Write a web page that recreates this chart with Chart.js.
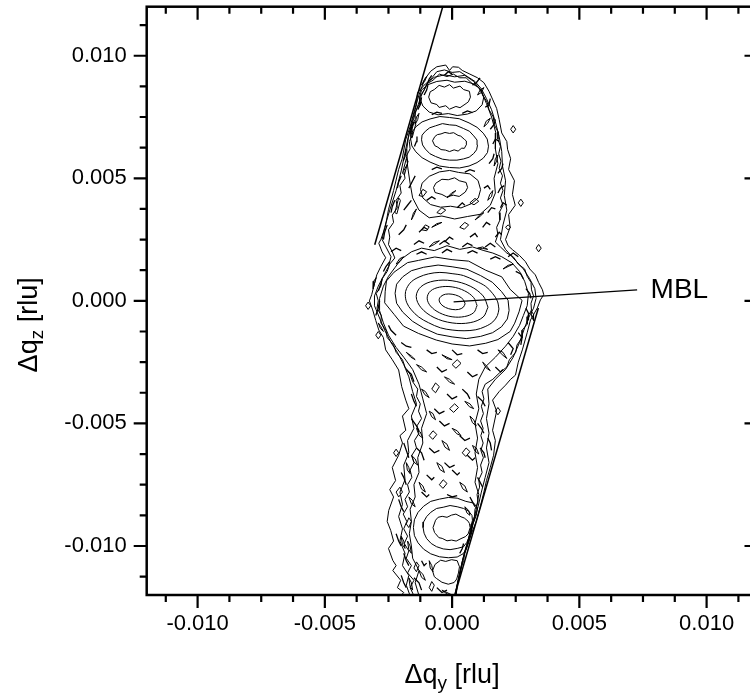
<!doctype html>
<html>
<head>
<meta charset="utf-8">
<title>MBL reciprocal space map</title>
<script src="https://cdn.jsdelivr.net/npm/chart.js@4.4.0/dist/chart.umd.min.js"></script>
<style>
html, body { margin: 0; padding: 0; overflow: hidden; background: #fff; }
</style>
</head>
<body>
<canvas id="map" width="770" height="698"></canvas>
<script>
// all contour points in units of 1e-4 rlu, as [dqy, dqz]
var UNIT = 1e-4;
var FONT = "'Liberation Sans', Arial, sans-serif";

var xTickLabels = [-0.010, -0.005, 0.000, 0.005, 0.010];
var yTickLabels = [-0.010, -0.005, 0.000, 0.005, 0.010];

// central (MBL) peak, inner to outer
var midR1 = [[5.1,-1.2],[4.4,0.5],[2.6,1.9],[0,2.7],[-2.6,2.7],[-4.4,1.8],[-5.1,0.4],[-4.4,-1.3],[-2.6,-2.7],[0,-3.5],[2.6,-3.5],[4.4,-2.6]];
var midR2 = [[9.8,-1.9],[8.5,1.3],[4.9,4.1],[0,5.7],[-4.9,5.6],[-8.5,4.0],[-9.8,1.1],[-8.5,-2.1],[-4.9,-4.9],[0,-6.5],[4.9,-6.4],[8.5,-4.8]];
var midR3 = [[14.1,-2.6],[12.2,2.0],[7.1,6.0],[0,8.2],[-7.1,8.1],[-12.2,5.8],[-14.1,1.8],[-12.2,-2.8],[-7.1,-6.8],[0,-9.0],[7.1,-8.9],[12.2,-6.6]];
var midR4 = [[18.4,-3.3],[17.8,-0.1],[16.0,2.9],[13.2,5.9],[9.3,8.1],[4.5,10.3],[0,11.1],[-4.8,11.6],[-9.3,11.0],[-13.0,9.7],[-16.0,7.8],[-17.9,5.0],[-18.4,2.5],[-17.8,-0.8],[-16.0,-3.7],[-13.1,-6.6],[-9.3,-8.9],[-4.6,-11.0],[0,-11.9],[4.7,-12.2],[9.3,-11.8],[13.0,-10.5],[16.0,-8.6],[17.8,-6.0]];
var midR5 = [[22.4,-3.9],[22.0,0.2],[19.4,3.8],[15.8,7.6],[11.2,10.3],[5.8,12.9],[0,13.9],[-5.5,14.6],[-11.2,13.7],[-16.0,12.3],[-19.4,9.8],[-21.8,6.8],[-22.4,3.1],[-21.8,-1.0],[-19.4,-4.6],[-15.6,-8.3],[-11.2,-11.1],[-5.8,-13.6],[0,-14.7],[5.6,-15.4],[11.2,-14.5],[15.9,-13.0],[19.4,-10.6],[21.7,-7.4]];
var midR6 = [[26.3,-4.5],[27.5,0.2],[22.8,4.7],[19.5,9.8],[13.2,12.5],[6.5,16.2],[0,16.8],[-6.8,17.9],[-13.2,16.5],[-17.5,15.6],[-22.8,11.7],[-25.8,8.1],[-26.3,3.7],[-26.5,-0.8],[-22.8,-5.5],[-19.1,-10.3],[-13.2,-13.3],[-6.2,-16.0],[0,-17.6],[6.9,-18.4],[13.2,-17.3],[18.0,-15.8],[22.8,-12.5],[24.6,-9.1]];

// upper peak group
var topCore = [[5.7,63.9],[5.6,65.2],[4.8,65.9],[3.4,67.2],[2.35,67.5],[0.6,68.6],[-1,68.3],[-2.8,68.7],[-4.35,68.1],[-5.8,67.8],[-6.8,67.0],[-7.7,65.3],[-6.8,63.3],[-5.6,62.7],[-4.35,61.7],[-2.6,61.5],[-1,60.9],[0.8,61.6],[2.35,61.1],[3.8,62.3],[4.8,62.2]];
var topRing2 = [[10,63.5],[9.8,65.6],[8.5,67.3],[6.8,69.2],[4.5,70.3],[1.5,71.6],[-1,71.8],[-3.8,72.3],[-6.5,71.4],[-8.8,70.6],[-10.5,69.2],[-11.8,67.6],[-12,65.7],[-11.6,63.6],[-10.5,61.9],[-8.7,60.0],[-6.5,58.9],[-3.8,57.8],[-1,57.4],[1.9,57.4],[4.5,57.9],[6.7,58.6],[8.5,60.1],[9.6,61.6]];
var topRing3 = [[14.3,63.1],[13.8,66.0],[12.25,68.4],[9.8,70.8],[6.65,72.6],[2.8,74.3],[-1,74.8],[-4.8,75.2],[-8.65,74.2],[-11.8,73.0],[-14.25,71.0],[-15.9,68.6],[-16.3,66.1],[-15.8,63.2],[-14.25,60.8],[-11.8,58.4],[-8.65,56.6],[-4.9,55.0],[-1,54.4],[2.9,54.2],[6.65,55.0],[9.8,56.4],[12.25,58.2],[13.9,60.5]];
var upperRing = [[7.2,83.1],[6.8,85.5],[4.5,86.2],[3.1,87.6],[0.5,86.8],[-1,88.2],[-3,87.2],[-5.1,87.9],[-7,86.2],[-8.6,85.3],[-9.2,83.1],[-8.3,80.8],[-6,80.1],[-5.1,78.9],[-2.5,79.6],[-1,78.2],[1.5,79.3],[3.1,78.8],[5.5,80.5],[6.4,81.2]];
var upperRing2 = [[12.4,82.9],[11.5,86],[9,88.3],[5,89.6],[1,89.2],[-2,90.0],[-6,89.5],[-9.5,88.2],[-12,86],[-12.8,82.9],[-11.5,79.5],[-9,77],[-5.5,75.9],[-1.5,76.4],[2,75.6],[6,76.2],[9.5,77.5],[11.8,80]];
var lowerRing = [[6.1,46.2],[5.5,48.3],[2.8,49.0],[1,50.2],[-1.5,49.4],[-4.0,49.6],[-6.4,48.0],[-7.3,46.2],[-6.7,44.2],[-4.0,43.4],[-2.2,42.4],[0.5,43.1],[2.8,42.6],[5.2,44.4]];
var lowerRing2 = [[11.2,45.4],[10.2,49.1],[7,51.8],[2.5,52.4],[-1,53.2],[-5,52.6],[-9,50.8],[-11.8,48],[-12.4,45.4],[-11.5,42],[-8.5,39.3],[-4.5,38.2],[-0.6,38.6],[3.5,37.9],[7.5,39.6],[10.3,42]];
var topGroup = [[-17.8,62],[-17,68],[-15.5,74],[-14,80],[-13.6,85],[-10.5,88.5],[-7,91.2],[-3,92.2],[1,91.4],[5,92],[8.5,89.5],[11.5,85.5],[13.5,80.5],[15.5,75],[17.2,68.5],[17,62],[18,56],[16.5,50],[17,44],[15,39],[11,35.3],[6,34.4],[1,33.4],[-4,34.6],[-9,33.9],[-13,37],[-15.5,42],[-16.5,48],[-17.5,55]];

// lower peak group
var botCore = [[7.1,-92.5],[6.8,-90.8],[6.3,-89.9],[4.8,-88.6],[3.5,-88.1],[1.5,-87.0],[-0.2,-87.4],[-2.0,-88.3],[-3.9,-87.9],[-5.5,-88.3],[-6.5,-89.5],[-7.5,-92.5],[-6.9,-94.5],[-6.5,-95.0],[-5.2,-96.6],[-3.9,-96.9],[-2.0,-97.9],[-0.2,-97.6],[1.6,-98.0],[3.5,-97.0],[5.2,-96.2],[6.3,-95.1]];
var botRing2 = [[7.3,-92.5],[8.0,-89.5],[7.8,-87.5],[6.5,-85.8],[4.5,-84.7],[2,-84.0],[-0.8,-83.5],[-3.5,-84.2],[-6.1,-84.7],[-8.3,-86.2],[-10.0,-88.0],[-11.2,-90.2],[-11.4,-92.5],[-11.0,-94.8],[-10.0,-97.0],[-8.2,-99.0],[-6.1,-100.3],[-3.5,-101.2],[-0.8,-101.5],[2,-101.0],[4.5,-100.3],[5.8,-98.5],[6.6,-96.5],[6.9,-94.5]];
var botRing3 = [[8.2,-91],[9.5,-87.5],[10.0,-84.5],[8.5,-82.5],[5.4,-81.8],[2,-80.5],[-1.5,-80.2],[-5,-80.9],[-8.4,-81.8],[-11.2,-83.8],[-13.4,-86.3],[-14.8,-89.3],[-15.2,-92.5],[-14.8,-95.8],[-13.4,-98.7],[-11.2,-101.3],[-8.4,-103.2],[-5,-104.4],[-1.5,-104.8],[2,-104.5],[4.3,-103.2],[5.4,-101.5],[6.5,-98.7],[7.4,-95.5]];
var botLow = [[2.9,-108.5],[2.0,-106],[-0.2,-105.6],[-2.5,-106.3],[-4.5,-105.8],[-6.7,-107.5],[-7.7,-110.1],[-7.0,-112.5],[-6.2,-113.2],[-4.0,-114.8],[-1.5,-115.6],[0.8,-114.9],[1.8,-113.5],[2.5,-111]];

// noisy outer contours of the whole column (open where they leave the frame)
var outline1 = [[-20.2,-120.3],[-19.0,-119],[-21.5,-117],[-20.2,-114],[-23.3,-110],[-22.0,-108],[-23.3,-105.9],[-25.0,-101],[-23.0,-98],[-24.1,-93.7],[-25.5,-90],[-24.9,-85.5],[-23.0,-80],[-24.5,-77],[-22.2,-73.3],[-23.5,-68],[-21.0,-63.0],[-19.5,-58],[-20.5,-55],[-18.2,-52.8],[-19.5,-47],[-17.0,-44],[-18.2,-40.5],[-19.8,-35],[-21.0,-28.2],[-23.5,-24],[-26.1,-20.0],[-27.0,-15],[-28.8,-11.9],[-30.0,-8],[-31.2,-3.7],[-32.5,0],[-31.6,2.5],[-30.5,7],[-29.6,10.6],[-28.0,14],[-26.1,17.6],[-27.5,20],[-28.8,23.5],[-28.0,25.0],[-26.3,30],[-25.0,37.2],[-23.0,45],[-21.0,53.6],[-19.6,58],[-18.2,65.9],[-16.5,71],[-14.7,78.1],[-13.0,84],[-10.8,90.4],[-8.4,93.7],[-6,95.5],[-2.5,96.2],[-1,94],[0.2,95.5],[2.5,95.3],[4,94],[7,92.5],[10,91],[12.5,89],[14.5,85.5],[16,82],[17.5,78.5],[18.5,74],[19.5,68.5],[21.5,65],[21.8,61.8],[23,58],[22.2,53.6],[24.5,49],[23.7,43.4],[24.8,39],[22.2,35.2],[22.8,30],[21.0,25.0],[22.0,22.5],[23.7,20.9],[26.5,18.5],[28.8,16.0],[30.5,13],[32.7,10.6],[34.0,7.5],[35.5,4.5],[36.0,2.5],[34.7,0.4],[33.5,-2.9],[30.8,-7.8],[29.5,-13],[27.6,-20.0],[26.0,-25],[24.9,-30.3],[23.0,-32],[21.0,-34.4],[18.5,-37],[15.9,-40.5],[17.5,-45],[15.9,-52.8],[17.0,-57],[16.3,-63.0],[15.0,-68],[13.5,-73.3],[12.5,-78],[11.2,-83.5],[9.5,-90],[7.3,-95.7],[5.5,-101],[4.1,-105.9],[3.0,-112],[1.4,-118.2],[1.0,-120.3]];
var outline2 = [[-16.5,-120.3],[-18,-116],[-17,-112],[-19.5,-108],[-18.5,-103],[-20.5,-98],[-19.5,-93],[-21,-88],[-19.5,-83],[-20.5,-78],[-18.5,-73],[-19,-67],[-17,-62],[-17.5,-57],[-15,-52],[-16,-47],[-14,-42],[-15.5,-37],[-17,-31],[-19,-26],[-21.5,-21],[-24,-17],[-26.5,-12],[-28.5,-7],[-30.5,-2],[-30.5,2],[-29,6],[-27,10],[-25,14],[-24,18],[-26,22],[-27.5,25],[-26.5,30],[-24.5,37],[-22,45],[-20,53],[-18.6,60],[-17.4,66],[-15.8,72],[-14,78],[-12,84],[-9.5,89],[-6,93.5],[-3,94.2],[0,93.2],[3,93.5],[6,91.5],[9,89.5],[11.5,86.5],[13.5,82.5],[15.5,78],[17,73],[18.5,67],[19.5,61],[19.8,55],[21,49],[20.5,43],[21.5,37],[20,31],[19,25],[21,21],[24,17.5],[28,13],[30.5,9],[32.5,5],[33,1],[32,-3],[30,-7],[28.5,-11],[26.5,-17],[24,-23],[21,-28],[17,-32],[14,-36],[14.5,-42],[13.5,-48],[14.5,-54],[13.5,-60],[14.5,-66],[13,-72],[11.5,-78],[10.2,-84],[8.5,-90],[6.8,-96],[5.0,-102],[3.6,-108],[2.3,-114],[1.2,-120.3]];
var outline3 = [[-13,-120.3],[-14.5,-115],[-13,-110],[-15.5,-105],[-16,-100],[-16.8,-95],[-16,-90],[-16.5,-85],[-14.5,-80],[-15,-75],[-13,-70],[-13.5,-64],[-11.5,-58],[-12,-52],[-10,-46],[-11.5,-40],[-13,-34],[-15.5,-28],[-19,-23],[-22,-19],[-25,-14],[-27,-9],[-28.5,-4],[-28.5,1],[-27,6],[-25,10],[-22.5,13.5],[-20,17],[-16,20],[-12,21.5],[-7,20.5],[-2,22.5],[3,21],[8,22],[12.5,20.5],[16,19.5],[19.5,18],[23.5,15.5],[26.5,12],[28.5,8],[30,3],[29.5,-2],[28,-6],[26.5,-10],[24,-14.5],[21,-18.5],[17,-23],[13,-27],[10.5,-32],[9.5,-38],[10.5,-44],[9,-50],[10,-56],[9,-62],[10,-68],[9,-74],[10.5,-79],[9.5,-85],[7.8,-92],[6.2,-98],[4.6,-104],[3.2,-110],[2.0,-116],[1.6,-120.3]];
var outline4 = [[-15,-120.3],[-16.5,-117],[-15,-114],[-17.5,-111],[-16,-108],[-18,-105],[-17,-102],[-18.8,-99],[-17.5,-96],[-19,-93],[-17.8,-90],[-19.2,-87],[-17.5,-84],[-18.5,-81],[-16.8,-78],[-17.5,-75],[-15.8,-72],[-16.5,-69],[-15,-66],[-15.8,-63],[-14,-60],[-14.8,-57],[-13,-54],[-13.8,-51],[-12,-48],[-13.2,-45],[-12.5,-42],[-14,-39],[-13.5,-36],[-15.5,-33],[-16.5,-30],[-18.5,-27],[-19.5,-24],[-22,-21],[-23,-18],[-25.5,-15],[-26,-12],[-28,-9],[-27.8,-6],[-29.5,-3],[-29,0],[-29.8,3],[-28,6],[-27.5,9],[-25.5,12],[-24.5,15],[-22.5,17.5],[-23.5,20],[-25,23],[-24.5,26],[-25,29],[-23,32],[-23.5,35],[-21.5,38],[-22,41],[-20,44],[-20.5,47],[-18.5,50],[-19,53],[-17.5,56],[-18,59],[-16.5,62],[-16.8,65],[-15.5,68],[-16,71],[-14.5,74],[-14.5,77],[-13,80],[-12.8,83],[-11,86],[-10,88.5],[-7.5,90],[-5,92.5],[-2,91.5],[0.5,92.5],[3,91],[5.5,91],[8,88.5],[10.5,87],[12,84],[13.8,81],[14.5,78],[16.2,75],[16.5,72],[18,69],[18,66],[19,63],[18.3,60],[19.2,57],[18.5,54],[19.8,51],[19,48],[20,45],[19,42],[20,39],[18.5,36],[18.8,33],[17.5,30],[18,27],[17,24],[19,22],[21.5,19.5],[24,18],[26,15],[28.5,13],[29.5,10],[31,7.5],[31.2,4.5],[32,2],[31,-1],[31.2,-4],[29.5,-6.5],[29.5,-9.5],[27.5,-12],[27.5,-15],[25.5,-18],[25,-21],[22.5,-24],[21.5,-27],[18.5,-29.5],[16,-32],[13,-34],[11.8,-37],[12.5,-40],[11.5,-43],[12.3,-46],[11.2,-49],[12.2,-52],[11.3,-55],[12.2,-58],[11.3,-61],[12.3,-64],[11.2,-67],[11.8,-70],[10.5,-73],[10.8,-76],[9.8,-79],[10.2,-82],[9,-85],[8.8,-88],[7.8,-91],[7.5,-94],[6.5,-97],[6,-100],[5,-103],[4.5,-106],[3.6,-109],[3,-112],[2.2,-115],[1.8,-118],[1.4,-120.3]];

// short open streaks of contour: [x1, y1, xk, yk, x2, y2]
var streaks = [
  [-10,88,-9,90.5,-8,92],[8,88,9.5,89,11,91],[-11,84,-10,86,-9.5,88],[-13.5,78,-12.5,80,-12,83],
  [13,79,14.5,80,15,82.5],[-3,92,-1.5,93.5,0,92.5],[-16.5,68,-16,70.5,-15,73],[15,70,16.5,72,17,74],
  [-14.8,63,-14,65,-13.8,67],[16,64,17,66,18.5,65],[-19.2,57,-18.5,59,-18,62],[14.5,56,16,58,16.5,60],
  [18,52,19.5,54,20,56],[-21.5,46,-21,48.5,-20,51],[-17,46,-15.5,49,-14.5,51],[12.5,46,14,47,15,45.5],
  [18,44,19,46,20.5,47],[-24,36,-23.5,38.5,-22.5,41],[-19,37,-17.5,39,-16,41],[-10,41,-8,42.5,-6.5,41.5],
  [2,38,4,40,5,39],[14,36,15.5,38,17,37.5],[19,38,20,40,21.5,39],[-27,25,-26.5,28,-25.5,31],
  [-21,27,-19,29,-18,31],[-13,28,-11,30,-9.5,29],[-3,24,-1,26,0.5,25],[7,26,9,27.5,10,26],
  [12,30,13.5,32,15,31],[17,26,18.5,28,19.5,27],[-24,20,-22,21.5,-20,20.5],[-15,23,-13,24.5,-11,23.5],
  [-5,23,-3,24.5,-1,23],[4,22,6,23.5,8,22.5],[13,22,15,23.5,17,22],[22,18,24,19.5,26,18],
  [-8,76,-6,77,-4,76.5],[4,76.5,6,77.5,8,76.8],[-8,53.5,-6,54.5,-4,53.8],[5,52.5,7,53.5,9,52.8],
  [-30,-6,-29,-3,-28.5,0],[-29,4,-28,7,-27.5,9],[-27,12,-26,14,-24.5,16],[-25,-10,-24,-12,-22,-14],
  [-20,-17,-18,-18.5,-16,-19],[-14,19,-12,20,-10,19],[-4,19.5,-2,21,0,20],[6,19.5,8,20.5,10,19.5],
  [15,17,17,18,19,17],[25,12,27,11,28,9],[29,5,30.5,3,31,1],[29,-3,30,-5,30,-8],
  [26,-13,27.5,-15,27,-18],[22,-17,24,-19.5,23,-22],[-10,-20,-8,-21.5,-6,-21],[0,-20,2,-22,4,-21.5],
  [10,-20,12,-21.5,14,-21],[-18,-28,-16,-30,-15,-33],[-6,-27,-4,-29,-2,-28],[6,-29,8,-31,10,-30],
  [17,-27,19,-29,20,-28],[-16,-38,-15,-41,-14,-43],[-2,-38,0,-40,2,-39],[10,-39,12,-41,13,-43],
  [-16,-48,-14,-51,-13,-53],[-5,-49,-3,-51,-1,-50],[10,-50,11.5,-52,12.5,-54],[14,-56,15,-58,15.5,-61],
  [-19,-58,-18,-61,-17,-64],[-9,-60,-7,-62,-5,-61],[6,-63,8,-65,9,-64],[11,-60,12.5,-62,13,-64],
  [-20,-70,-19,-72,-18,-75],[-10,-71,-8,-73,-7,-72],[0,-69,2,-71,3,-70],[10,-72,11,-74,12,-76],
  [-21,-81,-20,-84,-19,-86],[-12,-78,-10,-80,-9,-79],[-2,-79,0,-80,2,-79.5],[-22,-95,-21,-98,-20,-100],
  [-19,-103,-18,-106,-17,-108],[-20,-112,-19,-115,-18,-117],[-15,-113,-13,-115,-12,-118],[-6,-117,-4,-119,-2,-118],
  [-12,-106,-11,-108,-10,-107],[7,-80,8,-82,9,-84],[3,-103,4,-101,4.5,-99],[-7,-44,-5,-46,-3,-45],
  [3,-55,5,-57,7,-56],[-3,-66,-1,-68,1,-67],[-14,-60,-12,-62,-11,-65],[4,-36,6,-38,7,-40]
];

// thin closed streak loops: [x1, y1, xa, ya, x2, y2, xb, yb]
var streakLoops = [
  [-14,-26,-12,-27,-10,-29,-12,-28.2],[-3,-31,-1,-32,1,-34,-1,-33.2],[12,-25,13.5,-26.5,15,-28.5,13.4,-27.4],
  [-12,-36,-10.5,-37,-9,-39.5,-10.7,-38.3],[5,-41,7,-42,8.5,-44,6.8,-43.2],[-9,-45,-7.5,-46,-6.5,-48.5,-8,-47.3],
  [0,-52,2,-53,3.5,-55,1.8,-54.2],[7,-47,8.5,-48.5,9.5,-51,8,-49.7],[-14,-52,-12.5,-53.5,-11.5,-56,-13,-54.8],
  [-4,-57,-2,-58.5,-1,-61,-2.8,-59.7],[-16,-63,-14.5,-64.5,-13.5,-67,-15,-65.8],[8,-59,9.5,-60,10.5,-62.5,9,-61.3],
  [-6,-66,-4,-67.5,-3,-70,-4.8,-68.8],[3,-74,5,-75.5,6,-78,4.2,-76.7],[-13,-74,-11.5,-75.5,-10.5,-78,-12,-76.8],
  [-18,-66,-17,-68,-16.5,-70.5,-17.6,-69],[-17,-80,-15.5,-81.5,-14.5,-84,-16,-82.8],[5,-84,6.5,-85.5,7,-87.5,5.8,-86.5],
  [-20,-96,-19,-98,-18.5,-101,-19.5,-99.5],[-17.5,-98,-16.5,-100,-16,-103,-17,-101.5],[-13,-110,-11.5,-111.5,-10.5,-114,-12,-112.8],
  [-17,-113,-16,-115,-15.5,-118,-16.5,-116.5],[-4,-118,-2,-119,0,-120,-2,-119.6],[-9,-106,-8,-108,-7.5,-110.5,-8.6,-109],
  [-31,5,-30.5,7,-29.8,9.5,-30.8,8],[-29,-9,-28,-10.5,-27,-12.5,-28.2,-11.2],[-22,15,-20.5,16,-19,18,-20.6,17.2],
  [-9,22,-7,23,-5,24.5,-7.2,23.8],[10,21.5,12,22,14,21,12,21.4],[20,13,22,14.5,24,15,22,14],
  [31,-4,32,-5.5,32,-8,31.2,-6.2],[18,-20,20,-21,21.5,-23.5,19.7,-22],[-4,-22,-2,-23,0,-24,-2,-23.6],
  [-18,-21,-16,-22.5,-14.5,-24,-16.2,-23],[-8,30,-6,31.5,-4,32,-6,31],[9,33,11,34.5,12.5,36,10.8,35],
  [-16,33,-15,35,-14,37.5,-15.2,35.8],[-2,42,0,43.5,1.5,45,-0.2,44],[14,41,15.5,42.5,16,45,14.8,43.4],
  [-14.5,72,-13.5,74,-13,76.5,-14,75],[12.5,71,14,72.5,15,74.5,13.4,73.3],[-12,88,-10.8,89.5,-10,91.5,-11,90],
  [10,84,11.5,85,12.5,87,11,86],[16.5,55,17.5,57,18,59.5,17,58]
];

// small closed blobs scattered in and beside the column
var noiseLoops = [
  [[-12,29],[-10.5,31],[-9,30.2],[-10,28.6]],
  [[3,30],[5,32],[6.5,31],[4.8,29.2]],
  [[-6,36],[-4,38],[-2.5,37],[-4.4,35.4]],
  [[-13,43],[-11.5,45.5],[-10,44.5],[-11.5,42.5]],
  [[7,40],[9,41.8],[10.5,40.6],[8.6,39.2]],
  [[23,70],[24,71.5],[25,70],[24,68.5]],
  [[26,40],[27,41.5],[28,40],[27,38.5]],
  [[21,30],[22,31],[23,30],[22,29]],
  [[-22.5,36],[-21,42],[-20.3,41],[-21.7,35.5]],
  [[-19.5,52],[-18,58],[-17.3,57],[-18.7,51.5]],
  [[-16.5,67],[-15,73],[-14.3,72],[-15.7,66.5]],
  [[-8,-36],[-6.5,-33.5],[-5,-35],[-6.5,-37.5]],
  [[0,-26],[2,-24],[3.5,-25.5],[1.5,-27.5]],
  [[-1,-44],[1,-42],[2.5,-43.5],[0.6,-45.5]],
  [[-9,-55],[-7.5,-53],[-6,-54.5],[-7.6,-56.5]],
  [[4,-62],[5.5,-60],[7,-61.5],[5.4,-63.5]],
  [[-5,-75],[-3.5,-73],[-2,-74.5],[-3.6,-76.5]],
  [[-18,-91],[-17,-88.5],[-16,-90],[-17,-92.5]],
  [[-22,-78],[-20.5,-76],[-19.5,-78],[-21,-80]],
  [[-23,-62],[-22,-60.5],[-21,-62],[-22,-63.5]],
  [[17,-45],[18,-43.5],[19,-45],[18,-46.5]],
  [[-34,-2],[-33,-0.5],[-32,-2],[-33,-3.5]],
  [[-30,-14],[-29,-12.5],[-28,-14],[-29,-15.5]],
  [[33,21.5],[34,23],[35,21.5],[34,20]],
  [[-15,-109],[-14,-106.5],[-13,-108],[-14,-110.5]],
  [[-9,-117],[-8,-114.5],[-7,-116],[-8,-118.5]]
];

// detector-edge lines and MBL pointer
var leftEdge = [[-30.4,22.9],[-3.6,120.3]];
var rightEdge = [[33.9,-2.9],[1.0,-120.3]];
var mblPointer = [[0.6,-0.4],[72.7,4.5]];
var mblLabel = { text: 'MBL', x: 0.0078, y: 0.00012 };

function toXY(points, closed) {
  var pts = points.map(function(p) { return { x: p[0] * UNIT, y: p[1] * UNIT }; });
  if (closed) pts.push({ x: pts[0].x, y: pts[0].y });
  return pts;
}

function contour(points, closed, smooth, width) {
  return {
    data: toXY(points, closed),
    showLine: true,
    pointRadius: 0,
    borderColor: '#000',
    borderWidth: width || 1,
    tension: smooth ? 0.35 : 0,
    fill: false
  };
}

var datasets = [
  contour(midR1, true, true), contour(midR2, true, true), contour(midR3, true, true),
  contour(midR4, true, true), contour(midR5, true, false), contour(midR6, true, false),
  contour(topCore, true, false), contour(topRing2, true, false), contour(topRing3, true, false),
  contour(upperRing, true, false), contour(upperRing2, true, false),
  contour(lowerRing, true, false), contour(lowerRing2, true, false), contour(topGroup, true, false),
  contour(botCore, true, false), contour(botRing2, true, false), contour(botRing3, true, false),
  contour(botLow, true, false),
  contour(outline1, false, false), contour(outline2, false, false),
  contour(outline3, false, false), contour(outline4, false, false),
  contour(leftEdge, false, false, 1.5), contour(rightEdge, false, false, 1.5),
  contour(mblPointer, false, false, 1.2)
];
noiseLoops.forEach(function(l) { datasets.push(contour(l, true, false)); });
streaks.forEach(function(s) {
  datasets.push(contour([[s[0], s[1]], [s[2], s[3]], [s[4], s[5]]], false, false, 1.3));
});
streakLoops.forEach(function(s) {
  datasets.push(contour([[s[0], s[1]], [s[2], s[3]], [s[4], s[5]], [s[6], s[7]]], true, false));
});

var tickMarks = [];
for (var i = -9; i <= 9; i++) tickMarks.push({ v: i * 0.00125, major: i % 4 === 0 });

function drawSubText(ctx, main, sub, rest, cx, cy, size) {
  var subSize = Math.round(size * 0.72);
  ctx.font = size + 'px ' + FONT;
  var w1 = ctx.measureText(main).width, w3 = ctx.measureText(rest).width;
  ctx.font = subSize + 'px ' + FONT;
  var w2 = ctx.measureText(sub).width;
  var x = cx - (w1 + w2 + w3) / 2;
  ctx.textAlign = 'left';
  ctx.textBaseline = 'alphabetic';
  ctx.font = size + 'px ' + FONT;
  ctx.fillText(main, x, cy);
  ctx.font = subSize + 'px ' + FONT;
  ctx.fillText(sub, x + w1, cy + size * 0.24);
  ctx.font = size + 'px ' + FONT;
  ctx.fillText(rest, x + w1 + w2, cy);
}

var framePlugin = {
  id: 'frame',
  afterDatasetsDraw: function(chart) {
    var ctx = chart.ctx, a = chart.chartArea, xs = chart.scales.x, ys = chart.scales.y;
    ctx.save();
    ctx.strokeStyle = '#000';
    ctx.lineWidth = 2.5;
    ctx.strokeRect(a.left, a.top, a.right - a.left, a.bottom - a.top);
    ctx.lineWidth = 2.2;
    ctx.beginPath();
    tickMarks.forEach(function(t) {
      var len = t.major ? 13 : 7;
      var px = xs.getPixelForValue(t.v);
      ctx.moveTo(px, a.bottom); ctx.lineTo(px, a.bottom + len);
      ctx.moveTo(px, a.top); ctx.lineTo(px, a.top + len);
      var py = ys.getPixelForValue(t.v);
      ctx.moveTo(a.left, py); ctx.lineTo(a.left - len, py);
      ctx.moveTo(a.right, py); ctx.lineTo(a.right - len, py);
    });
    ctx.stroke();

    ctx.fillStyle = '#000';
    ctx.font = '28px ' + FONT;
    ctx.textAlign = 'left';
    ctx.textBaseline = 'alphabetic';
    ctx.fillText(mblLabel.text, xs.getPixelForValue(mblLabel.x), ys.getPixelForValue(mblLabel.y));

    drawSubText(ctx, '\u0394q', 'y', ' [rlu]', xs.getPixelForValue(0), 683, 27);
    ctx.translate(37, ys.getPixelForValue(0) + 24);
    ctx.rotate(-Math.PI / 2);
    drawSubText(ctx, '\u0394q', 'z', ' [rlu]', 0, 0, 27);
    ctx.restore();
  }
};

var tickFont = { family: FONT, size: 22 };

new Chart(document.getElementById('map').getContext('2d'), {
  type: 'scatter',
  data: { datasets: datasets },
  options: {
    responsive: false,
    animation: false,
    events: [],
    layout: { padding: { top: 6.7, right: 12.5, left: 0, bottom: 0 } },
    plugins: { legend: { display: false }, tooltip: { enabled: false } },
    scales: {
      x: {
        type: 'linear', position: 'bottom', min: -0.012, max: 0.012,
        grid: { display: false, drawTicks: false },
        border: { display: false },
        afterBuildTicks: function(s) { s.ticks = xTickLabels.map(function(v) { return { value: v }; }); },
        afterFit: function(s) { s.height = 103; s.paddingLeft = 0; s.paddingRight = 0; },
        ticks: { padding: 16, color: '#000', font: tickFont, maxRotation: 0, autoSkip: false,
                 callback: function(v) { return Number(v).toFixed(3); } }
      },
      y: {
        type: 'linear', position: 'left', min: -0.012, max: 0.012,
        grid: { display: false, drawTicks: false },
        border: { display: false },
        afterBuildTicks: function(s) { s.ticks = yTickLabels.map(function(v) { return { value: v }; }); },
        afterFit: function(s) { s.width = 146.7; s.paddingTop = 0; s.paddingBottom = 0; },
        ticks: { padding: 20, color: '#000', font: tickFont, autoSkip: false,
                 callback: function(v) { return Number(v).toFixed(3); } }
      }
    }
  },
  plugins: [framePlugin]
});
</script>
</body>
</html>
